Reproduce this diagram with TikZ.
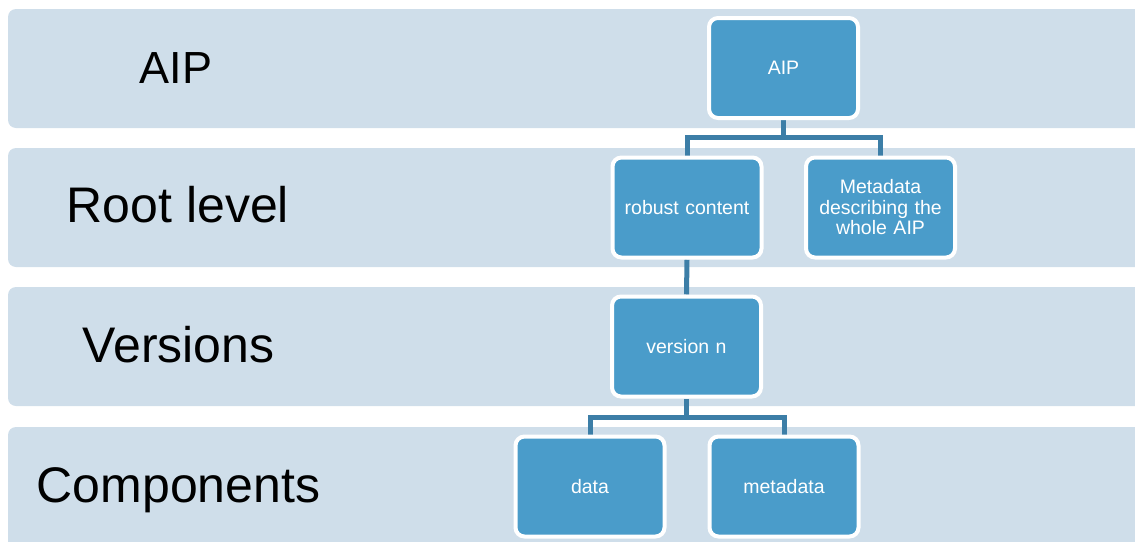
\documentclass[tikz,border=0pt]{standalone}
\usepackage{fontspec}
\setmainfont{Liberation Sans}
\definecolor{bandfill}{HTML}{CFDEEA}
\definecolor{boxfill}{HTML}{4A9CCA}
\definecolor{linkcol}{HTML}{3C7EA7}
\pgfdeclarelayer{bg}
\pgfsetlayers{bg,main}
\tikzset{
  band/.style={fill=bandfill, rounded corners=8pt},
  levellabel/.style={anchor=base, font=\fontsize{50}{56}\selectfont, text=black, inner sep=0pt},
  item/.style={draw=white, line width=4pt, fill=boxfill, rounded corners=9pt,
    minimum width=149pt, minimum height=100pt, text width=140pt, align=center,
    text=white, font=\fontsize{19.5}{20.5}\selectfont},
  link/.style={draw=linkcol, line width=5pt}
}
\begin{document}
\begin{tikzpicture}[x=1pt,y=-1pt]
\useasboundingbox (0,0) rectangle (1135,541);
\clip (0,0) rectangle (1135,541);

% level bands
\begin{pgfonlayer}{bg}
\fill[band] (8,9) rectangle (1150,128);
\fill[band] (8,148) rectangle (1150,267);
\fill[band] (8,287) rectangle (1150,406);
\fill[band] (8,427) rectangle (1150,560);
\end{pgfonlayer}

% level names
\node[levellabel, font=\fontsize{45}{50}\selectfont] (lAIP) at (176,83) {AIP};
\node[levellabel] (lRoot) at (178,222) {Root level};
\node[levellabel] (lVer) at (178.5,362) {Versions};
\node[levellabel] (lComp) at (178.5,502) {Components};

% tree boxes
\node[item] (aip) at (783.5,68) {AIP};
\node[item] (rc) at (687,207.5) {robust content};
\node[item] (md) at (880.5,207.5) {Metadata\\describing the\\whole AIP};
\node[item] (ver) at (686.5,346.5) {version n};
\node[item] (data) at (590,486.5) {data};
\node[item] (meta) at (784,486.5) {metadata};

% junctions of the connectors
\coordinate (j1) at (783.5,137);
\coordinate (j2) at (686.5,417);

\begin{pgfonlayer}{bg}
\draw[link] (aip.south) -- (j1);
\draw[link] (j1) -| (rc.north);
\draw[link] (j1) -| (md.north);
\draw[link] (rc.south) -- (ver.north);
\draw[link] (ver.south) -- (j2);
\draw[link] (j2) -| (data.north);
\draw[link] (j2) -| (meta.north);
\end{pgfonlayer}
\end{tikzpicture}
\end{document}
